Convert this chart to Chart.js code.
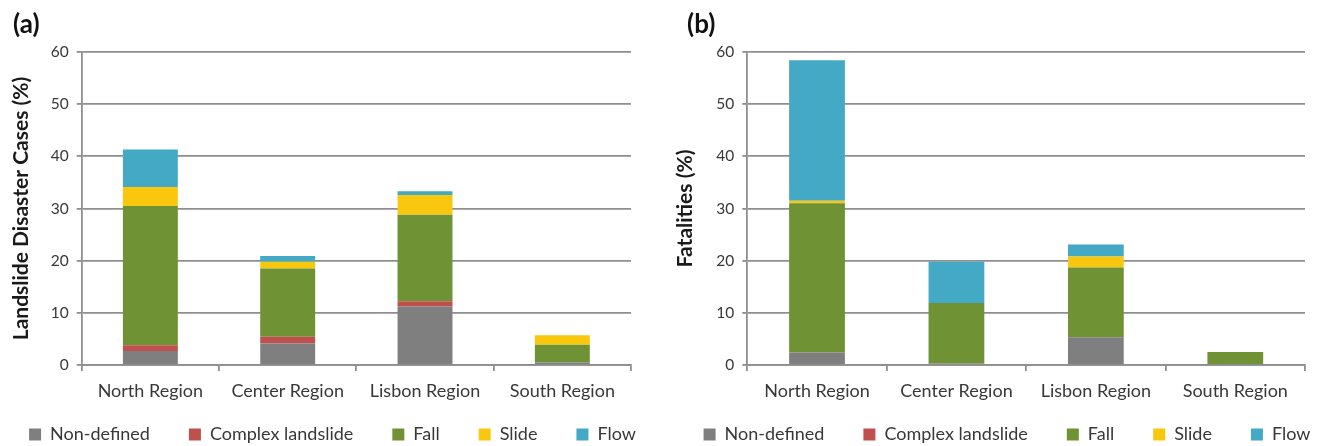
<!DOCTYPE html>
<html><head><meta charset="utf-8">
<script src="https://cdn.jsdelivr.net/npm/chart.js@4.4.1/dist/chart.umd.min.js"></script>
<style>
html,body{margin:0;padding:0;background:#fff;overflow:hidden;width:1325px;height:446px;position:relative;}
.wrap{position:absolute;top:0;height:446px;}
canvas{display:block;}
</style></head><body>
<div class="wrap" style="left:-40px;width:745px"><canvas id="ca" width="745" height="446"></canvas></div>
<div class="wrap" style="left:639px;width:736px"><canvas id="cb" width="736" height="446"></canvas></div>
<script>
const categories = ['North Region', 'Center Region', 'Lisbon Region', 'South Region'];
const seriesNames = ['Non-defined', 'Complex landslide', 'Fall', 'Slide', 'Flow'];
const seriesColors = ['#7f7f7f', '#c0504d', '#6f9234', '#f9c80e', '#44a9c5'];
const yTicks = [0, 10, 20, 30, 40, 50, 60];

// (a) Landslide Disaster Cases (%)
const casesNonDefined = [2.7, 4.1, 11.2, 0.5];
const casesComplex    = [1.1, 1.3, 1.0, 0];
const casesFall       = [26.7, 13.1, 16.6, 3.4];
const casesSlide      = [3.6, 1.3, 3.8, 1.8];
const casesFlow       = [7.2, 1.1, 0.7, 0];

// (b) Fatalities (%)
const fatalNonDefined = [2.4, 0.3, 5.3, 0];
const fatalComplex    = [0, 0, 0, 0];
const fatalFall       = [28.6, 11.6, 13.4, 2.5];
const fatalSlide      = [0.5, 0, 2.1, 0];
const fatalFlow       = [26.9, 7.9, 2.3, 0];

const FONT = 'Lato';
const GRID = '#8e8e8e';
const TXT = '#383838';

const panelLetter = {
  id: 'panelLetter',
  afterDraw(chart, args, opts) {
    const c = chart.ctx;
    c.save();
    c.font = 'bold 26px ' + FONT;
    c.fillStyle = '#111';
    c.textBaseline = 'middle';
    c.textAlign = 'left';
    c.fillText(opts.text, opts.x, opts.y);
    c.restore();
  }
};

function makeChart(id, seriesArrays, yTitle, geo) {
  const datasets = seriesArrays.map((arr, i) => ({
    label: seriesNames[i],
    data: arr,
    backgroundColor: seriesColors[i],
    borderWidth: 0,
    barPercentage: 0.4,
    categoryPercentage: 1.0
  }));
  return new Chart(document.getElementById(id), {
    type: 'bar',
    data: { labels: categories, datasets },
    plugins: [panelLetter],
    options: {
      responsive: false,
      animation: false,
      layout: { padding: { top: 52, left: 0, right: 0, bottom: 0 } },
      plugins: {
        tooltip: { enabled: false },
        panelLetter: { text: geo.letter, x: geo.letterX, y: 25 },
        legend: {
          position: 'bottom',
          align: 'center',
          maxHeight: 59.5,
          labels: {
            boxWidth: 12, boxHeight: 12, padding: 39,
            color: TXT,
            font: { family: FONT, size: 18 }
          }
        }
      },
      scales: {
        x: {
          stacked: true,
          offset: true,
          grid: { display: true, drawOnChartArea: false, drawTicks: true, tickLength: 6, color: GRID, lineWidth: 1.8, offset: true },
          border: { display: true, color: GRID, width: 1.8 },
          ticks: { color: TXT, font: { family: FONT, size: 18 }, mirror: true, padding: -36.8, maxRotation: 0, autoSkip: false },
          afterFit(s) { s.height = 21.5; }
        },
        y: {
          stacked: true,
          min: 0, max: 60,
          afterBuildTicks(s) { s.ticks = yTicks.map(v => ({ value: v })); },
          grid: { color: GRID, lineWidth: 1.8, drawTicks: true, tickLength: 5 },
          border: { display: true, color: GRID, width: 1.8 },
          ticks: { color: TXT, font: { family: FONT, size: 15.5 }, padding: 8 },
          title: {
            display: true, text: yTitle, color: '#1a1a1a',
            font: { family: FONT, size: 21, weight: 'bold', lineHeight: 1.2 },
            padding: { top: geo.titleX - 12.6, bottom: 0 }
          },
          afterFit(s) { s.width = geo.yWidth; }
        },
        yR: {
          type: 'linear',
          position: 'right',
          display: true,
          grid: { display: false },
          border: { display: false },
          ticks: { display: false },
          afterFit(s) { s.width = geo.rightWidth; }
        }
      }
    }
  });
}

makeChart('ca',
  [casesNonDefined, casesComplex, casesFall, casesSlide, casesFlow],
  'Landslide Disaster Cases (%)',
  { letter: '(a)', letterX: 53, yWidth: 121.7, rightWidth: 74, titleX: 61.5 });

makeChart('cb',
  [fatalNonDefined, fatalComplex, fatalFall, fatalSlide, fatalFlow],
  'Fatalities (%)',
  { letter: '(b)', letterX: 48, yWidth: 108.3, rightWidth: 70, titleX: 46 });
</script>
</body></html>
